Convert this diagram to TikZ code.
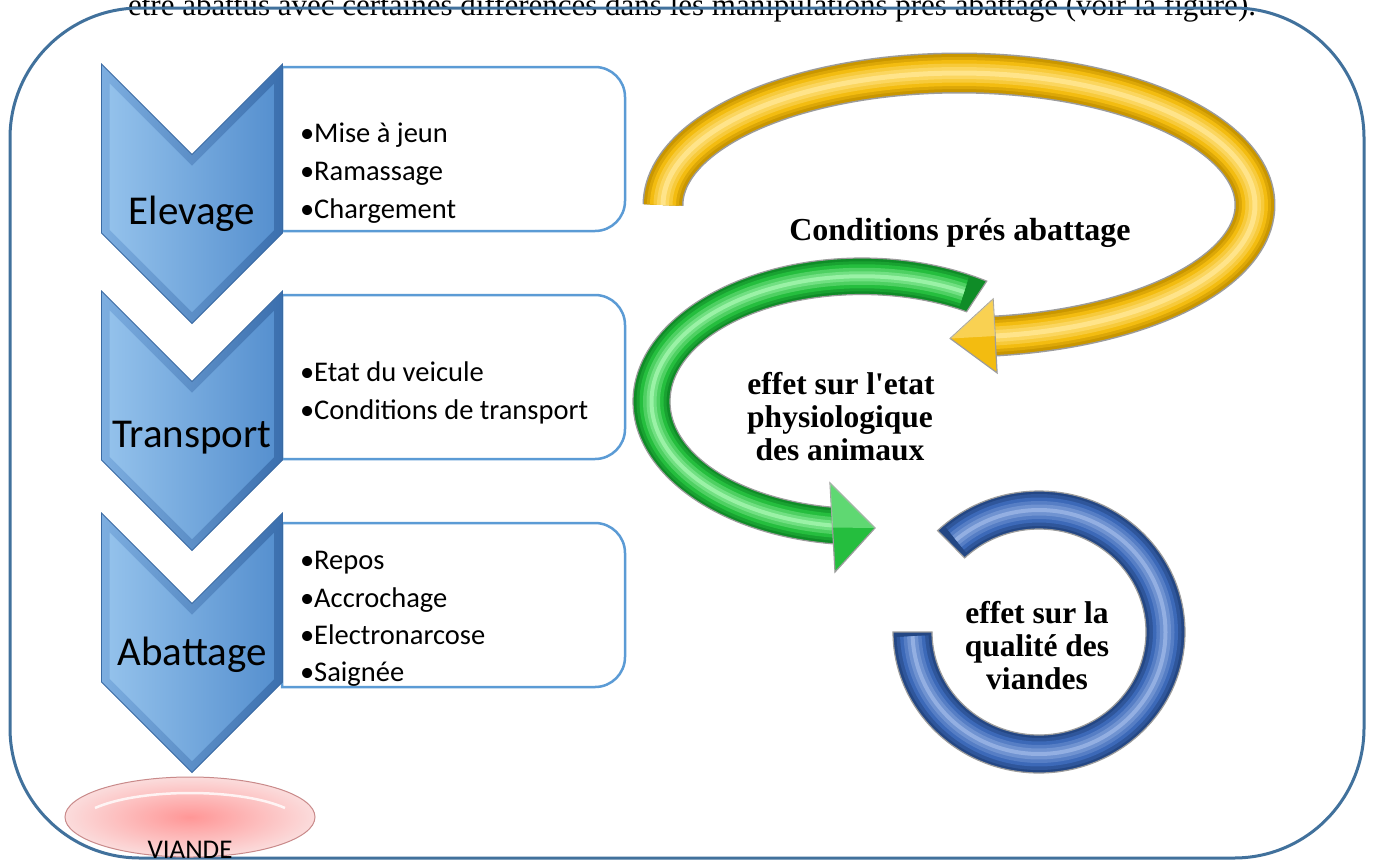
\documentclass[tikz,border=0pt]{standalone}
\usepackage{fontspec}
\newfontfamily\tnr{Liberation Serif}
\newfontfamily\carl{Carlito}
\usetikzlibrary{calc}

\definecolor{framec}{HTML}{41719C}
\definecolor{boxc}{HTML}{5B9BD5}
\definecolor{chevA}{HTML}{7DAEE0}
\definecolor{chevB}{HTML}{3B6FAE}
\definecolor{chevC}{HTML}{93C1EB}
\definecolor{chevD}{HTML}{5690CF}
\definecolor{chevE}{HTML}{3A6AA3}
\definecolor{pinkA}{HTML}{FF9696}
\definecolor{pinkB}{HTML}{FBDCDC}
\definecolor{pinkE}{HTML}{C98A8A}
\definecolor{rimc}{HTML}{9C9C9C}
\definecolor{yelA}{HTML}{C99600}
\definecolor{yelB}{HTML}{F3BC10}
\definecolor{yelC}{HTML}{FFE48A}
\definecolor{grnA}{HTML}{0F8C27}
\definecolor{grnB}{HTML}{25BE3E}
\definecolor{grnC}{HTML}{9AF2A6}
\definecolor{bluA}{HTML}{244784}
\definecolor{bluB}{HTML}{3C69B8}
\definecolor{bluC}{HTML}{93AFE2}

% chevron pointing down, #1 = top edge
\newcommand{\chev}[1]{%
  \path[chevouter] (101.5,#1) -- (192,#1+90.5) -- (282.5,#1) -- (282.5,#1+169)
    -- (192,#1+259.5) -- (101.5,#1+169) -- cycle;
  \path[chevinner] (109.5,#1+19.3) -- (192,#1+101.8) -- (274.5,#1+19.3)
    -- (274.5,#1+165.7) -- (192,#1+248.2) -- (109.5,#1+165.7) -- cycle;
}
% list box with rounded right corners, #1 = top edge
\newcommand{\itemframe}[1]{%
  \path[boxline] (282,#1) -- (595,#1) .. controls (611.6,#1) and (625,#1+13.4) .. (625,#1+30)
    -- (625,#1+134) .. controls (625,#1+150.6) and (611.6,#1+164) .. (595,#1+164)
    -- (282,#1+164) -- cycle;
}

\begin{document}
\begin{tikzpicture}[x=1pt, y=-1pt,
  every node/.style={inner sep=0pt, outer sep=0pt},
  frameline/.style={draw=framec, line width=3pt},
  boxline/.style={draw=boxc, line width=2.5pt, fill=white},
  chevouter/.style={left color=chevA, right color=chevB, draw=chevE, line width=0.8pt},
  chevinner/.style={left color=chevC, right color=chevD},
  itemtext/.style={font=\carl\fontsize{28.5}{34}\selectfont, anchor=base west},
  steptext/.style={font=\carl\fontsize{41}{49}\selectfont, anchor=base},
  boldtext/.style={font=\tnr\bfseries\fontsize{31.5}{36}\selectfont, anchor=base},
  rim/.style={draw=rimc, line width=1.2pt},
  tube/.style={line join=round},
]
\useasboundingbox (0,0) rectangle (1373,860);
\fill[white] (0,0) rectangle (1373,860);

% running text line above the frame
\node[font=\tnr\fontsize{31}{36}\selectfont, anchor=base] (caption) at (692,15)
  {être abattus avec certaines différences dans les manipulations prés abattage (voir la figure).};

% outer frame
\draw[frameline, rounded corners=130pt] (10,8) rectangle (1364,858);

% list boxes
\itemframe{67}
\itemframe{295}
\itemframe{523}

% chevrons
\chev{64}
\chev{291}
\chev{513}

\node[steptext] (elev) at (192,224) {Elevage};
\node[steptext] (trans) at (192,447) {Transport};
\node[steptext] (abat) at (192,665) {Abattage};

\node[itemtext] (i11) at (300,142) {•Mise à jeun};
\node[itemtext] (i12) at (300,180) {•Ramassage};
\node[itemtext] (i13) at (300,218) {•Chargement};
\node[itemtext] (i21) at (300,381) {•Etat du veicule};
\node[itemtext] (i22) at (300,419) {•Conditions de transport};
\node[itemtext] (i31) at (300,569) {•Repos};
\node[itemtext] (i32) at (300,607) {•Accrochage};
\node[itemtext] (i33) at (300,644) {•Electronarcose};
\node[itemtext] (i34) at (300,681) {•Saignée};

% end product
\path[inner color=pinkA, outer color=pinkB, draw=pinkE, line width=1pt]
  (190,817) ellipse [x radius=125, y radius=40];
\draw[white, line width=2.5pt, opacity=.8] (95,808) .. controls (140,788) and (240,788) .. (285,808);
\node[font=\carl\fontsize{27}{32}\selectfont, anchor=base] (viande) at (190,858) {VIANDE};

% yellow loop arrow
\draw[tube, line width=41pt, draw=rimc] plot[domain=180:444, samples=140] ({959+296*cos(\x)},{205+132*sin(\x)});
\foreach \w/\cc in {38/yelA, 32/yelA!55!yelB, 26/yelB, 19/yelB!65!yelC, 12/yelB!35!yelC, 5/yelC}
  \draw[tube, line width=\w pt, draw=\cc] plot[domain=180:444, samples=140] ({959+296*cos(\x)},{205+132*sin(\x)});
\path[fill=yelB, rim] (993.1,299.1) -- (950.2,338.5) -- (997.1,372.9) -- cycle;
\fill[yelC, opacity=.55] (993.1,299.1) -- (950.2,338.5) -- (995.1,336) -- cycle;

% green arrow
\path[fill=grnA, rim] plot[domain=303:96, samples=120] ({862+229*cos(\x)},{401.5+143.5*sin(\x)})
  -- plot[domain=96:303, samples=120] ({862+192*cos(\x)},{401.5+107*sin(\x)}) -- cycle;
\foreach \w/\cc in {30/grnA!55!grnB, 24/grnB, 17/grnB!65!grnC, 10/grnB!35!grnC, 4/grnC}
  \draw[tube, line width=\w pt, draw=\cc] plot[domain=299:97, samples=120] ({862+210.5*cos(\x)},{401.5+125.25*sin(\x)});
\path[fill=grnB, rim] (830,483) -- (875,528) -- (835,572) -- cycle;
\fill[grnC, opacity=.5] (830,483) -- (875,528) -- (832.5,527.5) -- cycle;

% blue ring
\path[fill=bluA, rim] plot[domain=226:540, samples=140] ({1039+146*cos(\x)},{632+141*sin(\x)})
  -- plot[domain=540:226, samples=140] ({1039+107*cos(\x)},{632+103*sin(\x)}) -- cycle;
\foreach \w/\cc in {32/bluA!55!bluB, 25/bluB, 18/bluB!70!bluC, 11/bluB!40!bluC, 4/bluC}
  \draw[tube, line width=\w pt, draw=\cc] plot[domain=229:538, samples=140] ({1039+126.5*cos(\x)},{632+122*sin(\x)});

% labels of the cycle
\node[boldtext, font=\tnr\bfseries\fontsize{32}{36}\selectfont] (cond) at (960,240) {Conditions prés abattage};
\node[boldtext] (phys1) at (841,394) {effet sur l'etat};
\node[boldtext] (phys2) at (840,427) {physiologique};
\node[boldtext] (phys3) at (840,460) {des animaux};
\node[boldtext] (qual1) at (1037,623) {effet sur la};
\node[boldtext] (qual2) at (1037,656) {qualité des};
\node[boldtext] (qual3) at (1037,689) {viandes};
\end{tikzpicture}
\end{document}
